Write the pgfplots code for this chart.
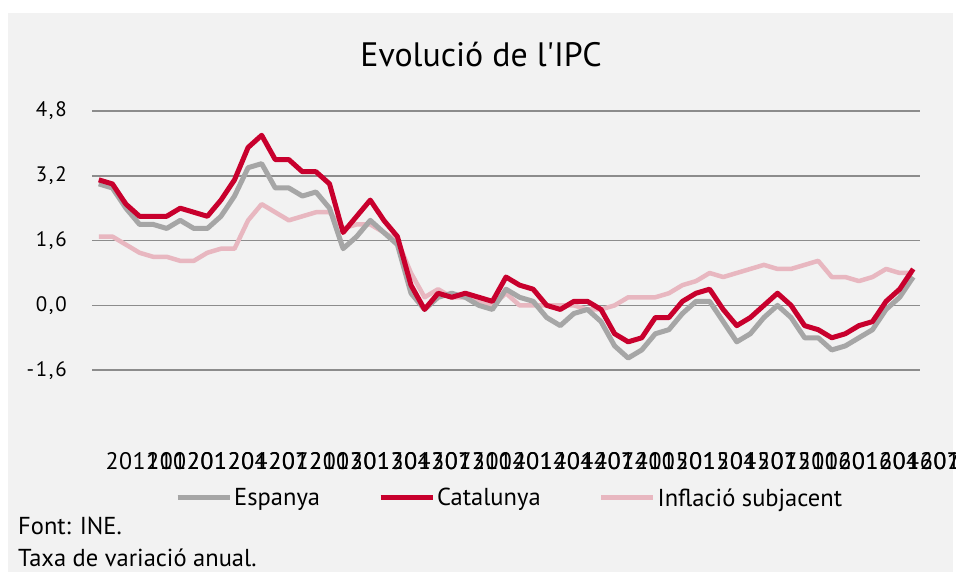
\documentclass[border=0pt]{standalone}
\usepackage{pgfplots}
\usepackage{pgfplotstable}
\pgfplotsset{compat=1.18}
\usepackage{fontspec}
\setmainfont{PT Sans}
\newfontfamily\titlefont[Ligatures=TeXOff]{PT Sans}
\definecolor{bg}{HTML}{F2F2F2}
\definecolor{gridc}{HTML}{8C8C8C}
\definecolor{espc}{HTML}{A6A6A6}
\definecolor{catc}{RGB}{200,0,45}
\definecolor{subc}{HTML}{E8B7C0}
\def\lab#1{\labi#1\relax}
\def\labi#1{\ifx#1\relax\else\makebox[13.5bp]{#1}\expandafter\labi\fi}
\pgfplotstableread{
i esp cat sub
0 3.0 3.1 1.7
1 2.9 3.0 1.7
2 2.4 2.5 1.5
3 2.0 2.2 1.3
4 2.0 2.2 1.2
5 1.9 2.2 1.2
6 2.1 2.4 1.1
7 1.9 2.3 1.1
8 1.9 2.2 1.3
9 2.2 2.6 1.4
10 2.7 3.1 1.4
11 3.4 3.9 2.1
12 3.5 4.2 2.5
13 2.9 3.6 2.3
14 2.9 3.6 2.1
15 2.7 3.3 2.2
16 2.8 3.3 2.3
17 2.4 3.0 2.3
18 1.4 1.8 1.9
19 1.7 2.2 2.0
20 2.1 2.6 2.0
21 1.8 2.1 1.8
22 1.5 1.7 1.6
23 0.3 0.5 0.8
24 -0.1 -0.1 0.2
25 0.2 0.3 0.4
26 0.3 0.2 0.2
27 0.2 0.3 0.2
28 0.0 0.2 0.1
29 -0.1 0.1 0.0
30 0.4 0.7 0.3
31 0.2 0.5 0.0
32 0.1 0.4 0.0
33 -0.3 0.0 0.0
34 -0.5 -0.1 0.0
35 -0.2 0.1 0.0
36 -0.1 0.1 -0.1
37 -0.4 -0.1 -0.1
38 -1.0 -0.7 0.0
39 -1.3 -0.9 0.2
40 -1.1 -0.8 0.2
41 -0.7 -0.3 0.2
42 -0.6 -0.3 0.3
43 -0.2 0.1 0.5
44 0.1 0.3 0.6
45 0.1 0.4 0.8
46 -0.4 -0.1 0.7
47 -0.9 -0.5 0.8
48 -0.7 -0.3 0.9
49 -0.3 0.0 1.0
50 0.0 0.3 0.9
51 -0.3 0.0 0.9
52 -0.8 -0.5 1.0
53 -0.8 -0.6 1.1
54 -1.1 -0.8 0.7
55 -1.0 -0.7 0.7
56 -0.8 -0.5 0.6
57 -0.6 -0.4 0.7
58 -0.1 0.1 0.9
59 0.2 0.4 0.8
60 0.7 0.9 0.8
}\datatable
\begin{document}
\begin{tikzpicture}[x=1bp,y=1bp]
\useasboundingbox (0,0) rectangle (956,572);
\clip (0,0) rectangle (956,572);
\fill[white] (0,0) rectangle (956,572);
\fill[bg] (8,0) rectangle (953,559);
\node[anchor=base, inner sep=0pt, font=\titlefont\fontsize{34}{40}\selectfont] at (481,505) {Evolució de l'IPC};
\node[anchor=base west, inner sep=0pt, font=\fontsize{24.6}{28}\selectfont] at (18,37) {Font: INE.};
\node[anchor=base west, inner sep=0pt, font=\fontsize{24.6}{28}\selectfont] at (18,5) {Taxa de variació anual.};
\begin{axis}[
  at={(92bp,137bp)}, anchor=south west,
  scale only axis, width=828bp, height=324bp,
  xmin=-0.5, xmax=60.5, ymin=-3.2, ymax=4.8,
  axis line style={draw=none},
  major tick length=0pt,
  ytick={-1.6,0,1.6,3.2,4.8},
  ymajorgrids, grid style={gridc, line width=1.5bp},
  xtick={0,3,...,60},
  xticklabels={\lab{201110},\lab{201201},\lab{201204},\lab{201207},\lab{201210},\lab{201301},\lab{201304},\lab{201307},\lab{201310},\lab{201401},\lab{201404},\lab{201407},\lab{201410},\lab{201501},\lab{201504},\lab{201507},\lab{201510},\lab{201601},\lab{201604},\lab{201607},\lab{201610}},
  xticklabel style={anchor=north west, inner sep=0pt, xshift=6.5bp, yshift=-17bp, font=\fontsize{24}{24}\selectfont},
  yticklabel style={anchor=east, inner sep=0pt, xshift=-25bp, font=\fontsize{21}{21}\selectfont\addfontfeature{LetterSpace=8},
    /pgf/number format/.cd, fixed, fixed zerofill, precision=1, use comma},
  /pgf/number format/assume math mode=true,
  legend columns=3,
  legend image code/.code={\draw[#1, line width=5bp] (0bp,0bp) -- (52bp,0bp);},
  legend style={at={(0.1003,-0.1944)}, anchor=west, draw=none, fill=none, inner sep=0pt,
    font=\fontsize{24.6}{28}\selectfont, nodes={inner sep=0pt},
    /tikz/every odd column/.append style={column sep=2bp},
    /tikz/every even column/.append style={column sep=58bp}},
  line join=round,
]
\addplot[subc, line width=4.5bp, forget plot] table[x=i, y=sub] {\datatable};
\addplot[espc, line width=5bp, forget plot] table[x=i, y=esp] {\datatable};
\addplot[catc, line width=5bp, forget plot] table[x=i, y=cat] {\datatable};
\addlegendimage{espc}
\addlegendentry{Espanya}
\addlegendimage{catc}
\addlegendentry{Catalunya}
\addlegendimage{subc}
\addlegendentry{Inflació subjacent}
\end{axis}
\end{tikzpicture}
\end{document}
